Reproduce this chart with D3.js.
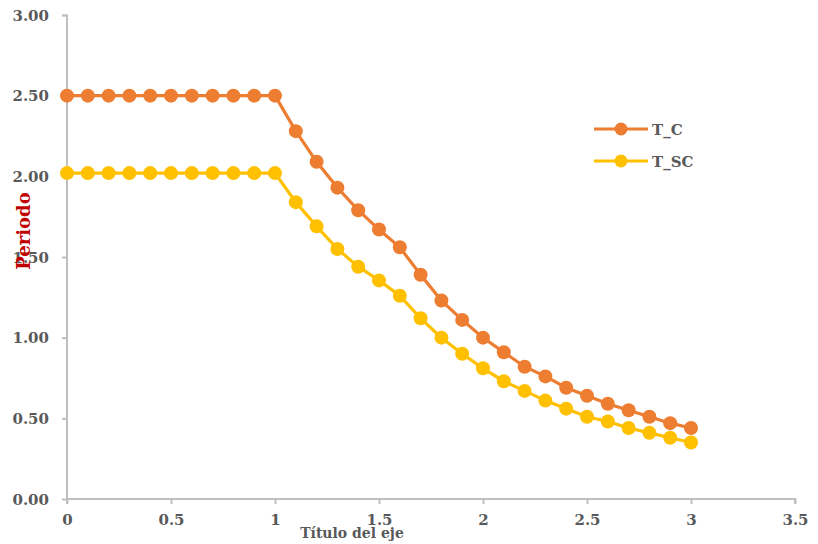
<!DOCTYPE html>
<html><head><meta charset="utf-8">
<script src="https://cdn.jsdelivr.net/npm/d3@7"></script>
<style>body{margin:0;background:#fff;} text{font-family:"DejaVu Serif",serif;font-weight:bold;}</style>
</head><body><svg id="c" width="818" height="544"></svg>
<script>
const xValues = [0,0.1,0.2,0.3,0.4,0.5,0.6,0.7,0.8,0.9,1.0,1.1,1.2,1.3,1.4,1.5,1.6,1.7,1.8,1.9,2.0,2.1,2.2,2.3,2.4,2.5,2.6,2.7,2.8,2.9,3.0];
const tC  = [2.50,2.50,2.50,2.50,2.50,2.50,2.50,2.50,2.50,2.50,2.50,2.28,2.09,1.93,1.79,1.67,1.56,1.39,1.23,1.11,1.00,0.91,0.82,0.76,0.69,0.64,0.59,0.55,0.51,0.47,0.44];
const tSC = [2.02,2.02,2.02,2.02,2.02,2.02,2.02,2.02,2.02,2.02,2.02,1.84,1.69,1.55,1.44,1.355,1.26,1.12,1.00,0.90,0.81,0.73,0.67,0.61,0.56,0.51,0.48,0.44,0.41,0.38,0.35];
const seriesNames = ["T_C","T_SC"];
const seriesColors = ["#ED7D31","#FFC000"];
const xTicks = [0,0.5,1,1.5,2,2.5,3,3.5];
const yTicks = [0,0.5,1,1.5,2,2.5,3];
const xTitle = "Título del eje";
const yTitle = "Periodo";

const svg = d3.select("#c");
const x = d3.scaleLinear().domain([0,3.5]).range([67,795]);
const y = d3.scaleLinear().domain([0,3]).range([499,15]);
const axisColor = "#bfbfbf", textColor = "#595959";

const yAxis = svg.append("g").attr("transform","translate(67,0)")
  .call(d3.axisLeft(y).tickValues(yTicks).tickFormat(d3.format(".2f")).tickSize(5).tickPadding(13));
const xAxis = svg.append("g").attr("transform","translate(0,499)")
  .call(d3.axisBottom(x).tickValues(xTicks).tickFormat(d=>String(d)).tickSize(5).tickPadding(10));
[yAxis,xAxis].forEach(a=>{
  a.select(".domain").attr("stroke",axisColor).attr("stroke-width",2).attr("d", a===yAxis ? "M-5,15.5H0V499" : "M67,0V5M67,0H795V5");
  a.selectAll(".tick line").attr("stroke",axisColor).attr("stroke-width",2);
  a.selectAll("text").attr("fill",textColor).style("font-size","15px").style("font-family","DejaVu Serif").style("font-weight","bold");
});
yAxis.selectAll("text").attr("dy","0.35em");

const series = [tC,tSC];
const line = d3.line().x((d,i)=>x(xValues[i])).y(d=>y(d));
series.forEach((s,k)=>{
  const g = svg.append("g");
  g.append("path").datum(s).attr("d",line).attr("fill","none").attr("stroke",seriesColors[k]).attr("stroke-width",3.2);
  g.selectAll("circle").data(s).join("circle").attr("cx",(d,i)=>x(xValues[i])).attr("cy",d=>y(d)).attr("r",7).attr("fill",seriesColors[k]);
});

// legend
seriesNames.forEach((n,k)=>{
  const ly = 129 + k*32;
  svg.append("line").attr("x1",594).attr("x2",648).attr("y1",ly).attr("y2",ly).attr("stroke",seriesColors[k]).attr("stroke-width",3.2);
  svg.append("circle").attr("cx",621).attr("cy",ly).attr("r",6.5).attr("fill",seriesColors[k]);
  svg.append("text").attr("x",652).attr("y",ly+5.5).attr("fill",textColor).style("font-size","15px").text(n);
});

svg.append("text").attr("x",352).attr("y",538).attr("text-anchor","middle").attr("fill",textColor).style("font-size","14px").text(xTitle);
svg.append("text").attr("transform","translate(30,231) rotate(-90)").attr("text-anchor","middle").attr("fill","#C00000").style("font-size","18px").text(yTitle);
</script></body></html>
